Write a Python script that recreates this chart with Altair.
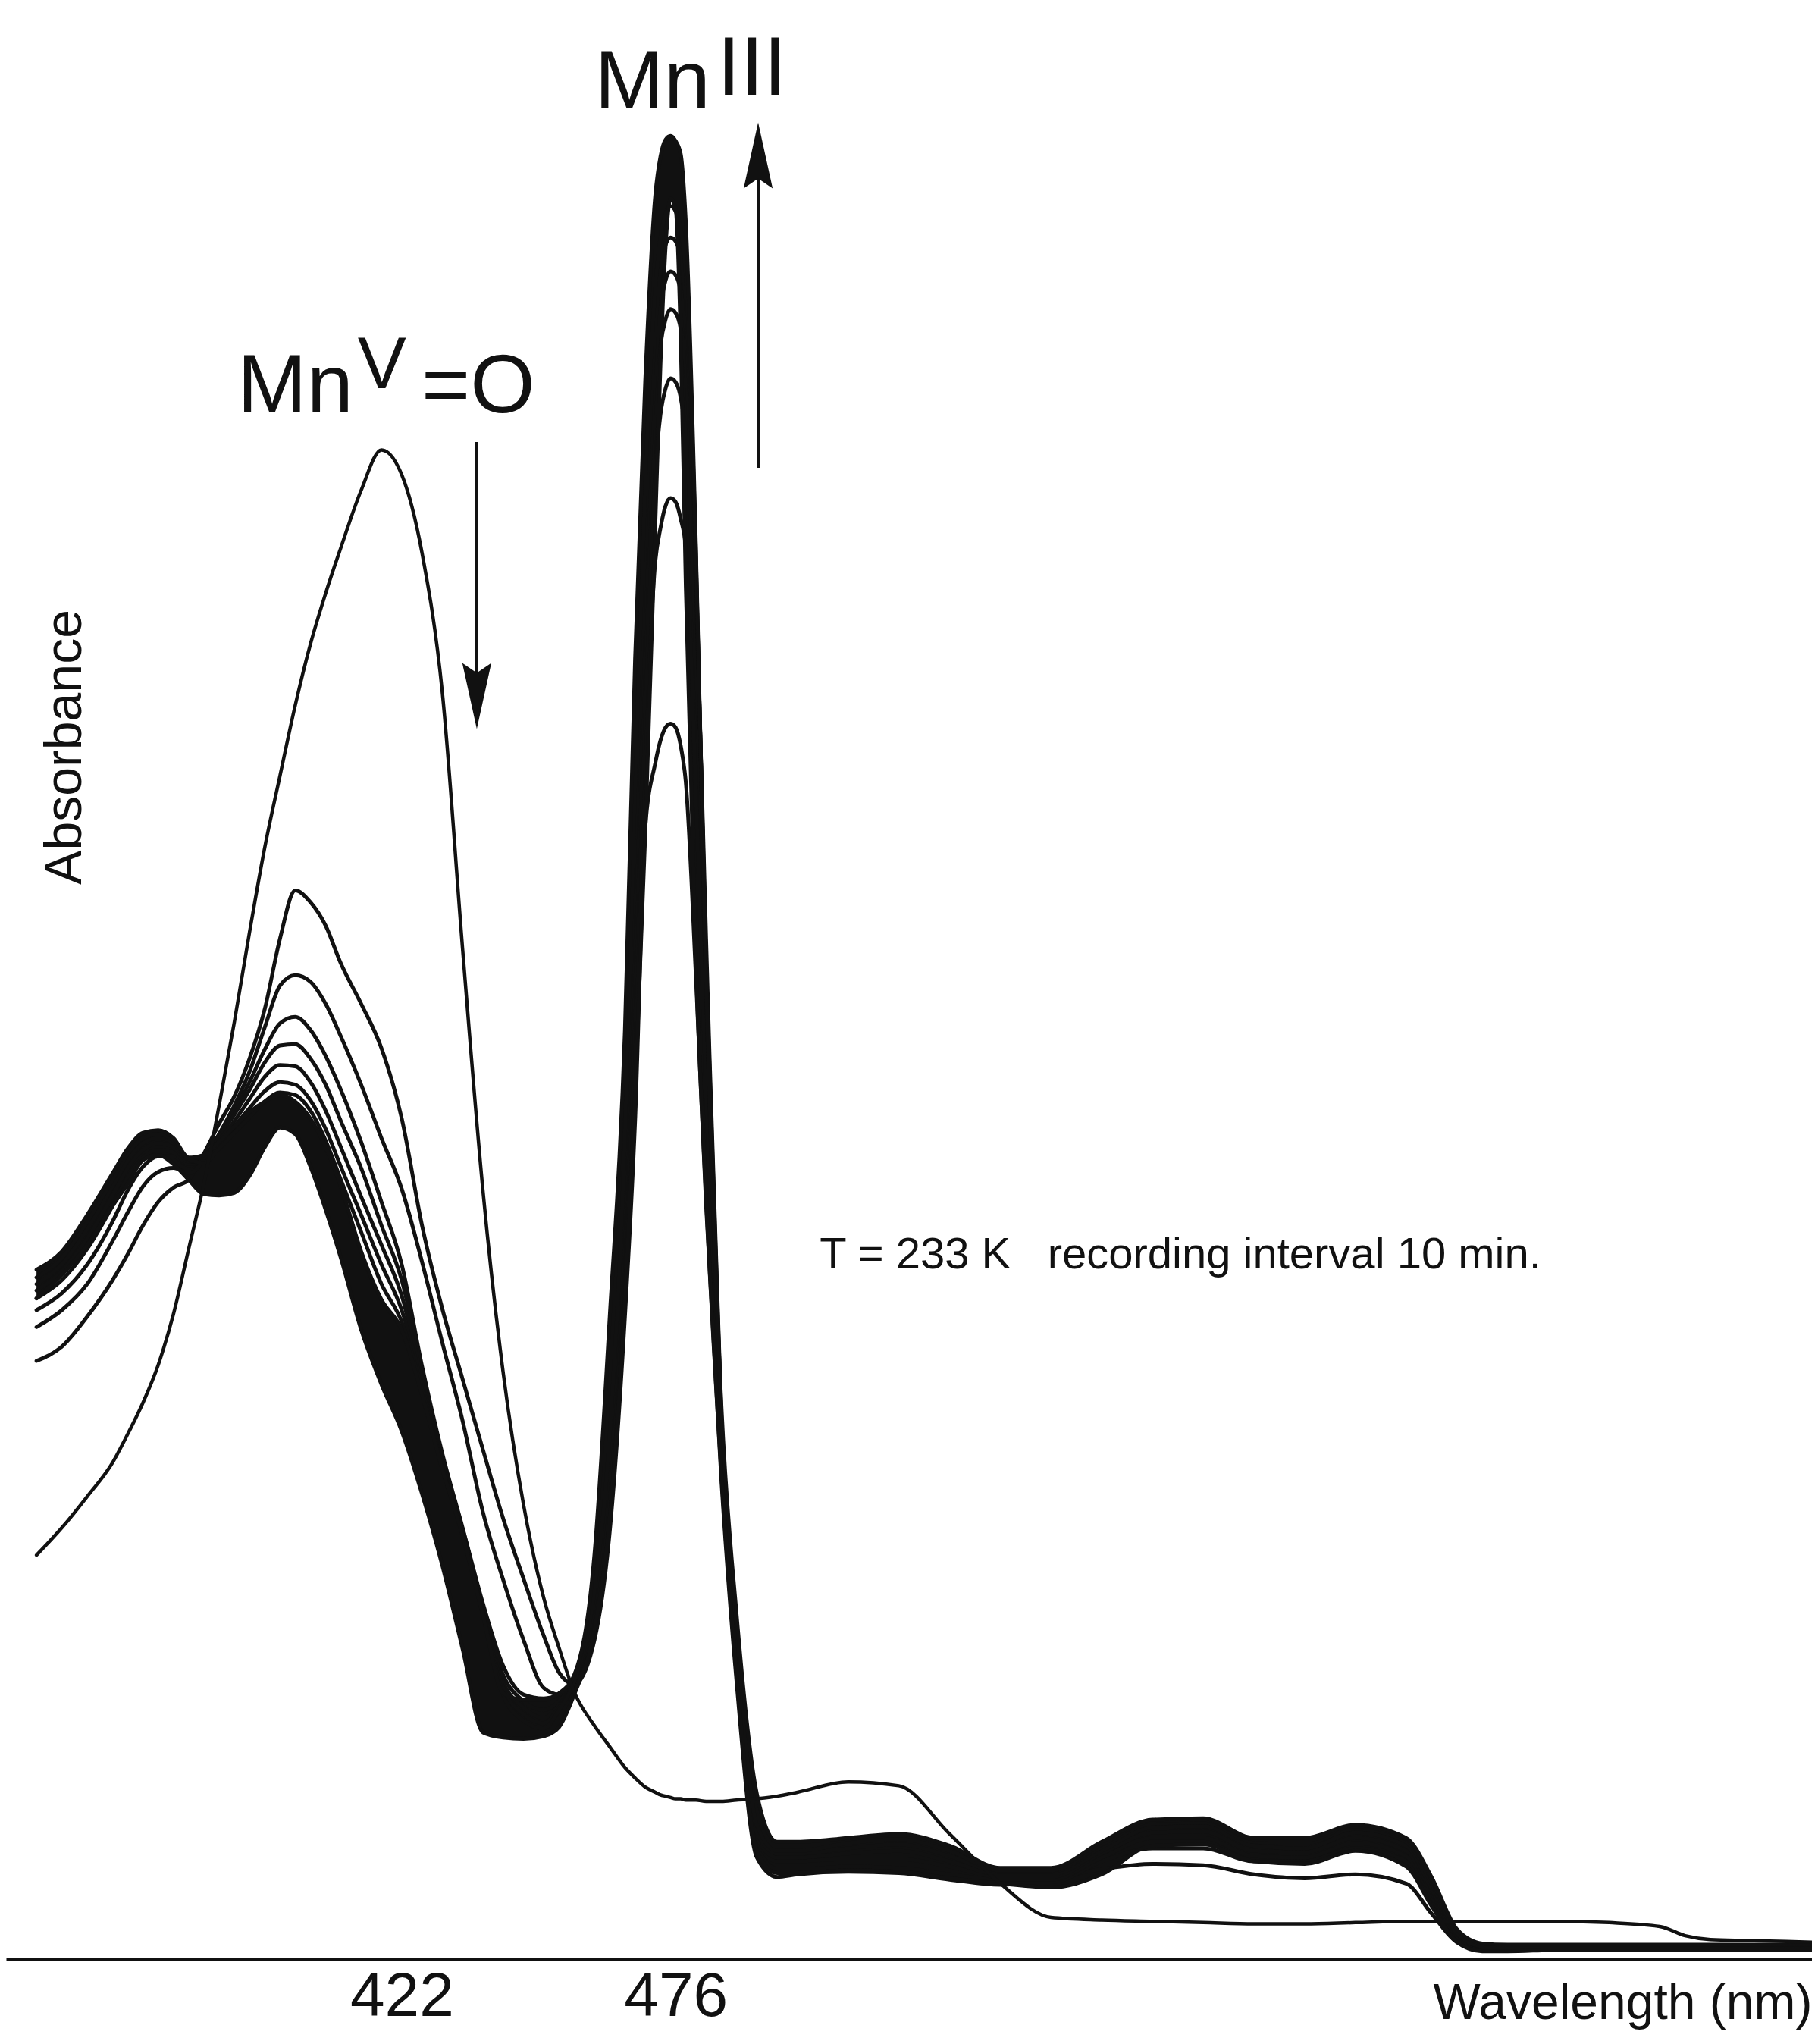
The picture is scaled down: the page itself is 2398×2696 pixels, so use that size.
import altair as alt
import pandas as pd

# wavelength grid (nm)
wl = [350, 355, 360, 365, 368, 371, 374, 377, 380, 383, 386, 389, 392, 395, 398, 401,
      404, 407, 410, 414, 418, 422, 426, 430, 434, 438, 442, 446, 450, 453, 456, 460,
      463, 466, 468, 470, 472, 473, 474, 475, 476, 477, 478, 480, 482, 485, 488, 492,
      496, 500, 510, 520, 530, 540, 550, 560, 570, 580, 590, 600, 610, 620, 625, 630,
      635, 640, 650, 660, 670, 675, 680, 690, 700]

# initial Mn(V)=O spectrum
c0 = [0.310, 0.331, 0.355, 0.381, 0.403, 0.427, 0.456, 0.495, 0.545, 0.595, 0.655, 0.719,
      0.788, 0.853, 0.908, 0.962, 1.009, 1.048, 1.083, 1.127, 1.158, 1.139, 1.079, 0.972,
      0.775, 0.590, 0.450, 0.349, 0.277, 0.239, 0.205, 0.179, 0.163, 0.147, 0.139, 0.132,
      0.128, 0.126, 0.125, 0.124, 0.123, 0.123, 0.122, 0.122, 0.121, 0.121, 0.122, 0.123,
      0.125, 0.128, 0.136, 0.133, 0.096, 0.058, 0.032, 0.030, 0.029, 0.028, 0.027, 0.027,
      0.028, 0.029, 0.029, 0.029, 0.029, 0.029, 0.029, 0.028, 0.025, 0.018, 0.015, 0.014,
      0.013]

c1 = [0.459, 0.470, 0.493, 0.521, 0.541, 0.563, 0.581, 0.592, 0.598, 0.618, 0.641, 0.662,
      0.691, 0.729, 0.783, 0.820, 0.811, 0.793, 0.764, 0.733, 0.699, 0.645, 0.563, 0.499,
      0.445, 0.391, 0.338, 0.292, 0.248, 0.220, 0.211, 0.245, 0.328, 0.493, 0.643, 0.868,
      0.918, 0.935, 0.945, 0.948, 0.945, 0.931, 0.903, 0.753, 0.578, 0.368, 0.213, 0.078,
      0.063, 0.065, 0.067, 0.066, 0.061, 0.057, 0.062, 0.069, 0.073, 0.072, 0.065, 0.062,
      0.065, 0.058, 0.035, 0.013, 0.007, 0.007, 0.007, 0.007, 0.007, 0.007, 0.007, 0.007,
      0.007]

c2 = [0.485, 0.498, 0.518, 0.551, 0.573, 0.593, 0.604, 0.607, 0.603, 0.613, 0.633, 0.655,
      0.681, 0.715, 0.747, 0.755, 0.750, 0.733, 0.708, 0.671, 0.630, 0.591, 0.535, 0.473,
      0.413, 0.343, 0.291, 0.245, 0.208, 0.203, 0.210, 0.253, 0.343, 0.523, 0.723, 0.928,
      1.073, 1.098, 1.115, 1.121, 1.118, 1.105, 1.083, 0.893, 0.663, 0.393, 0.228, 0.085,
      0.069, 0.067, 0.070, 0.069, 0.063, 0.059, 0.059, 0.075, 0.085, 0.085, 0.075, 0.075,
      0.085, 0.075, 0.045, 0.015, 0.008, 0.008, 0.008, 0.008, 0.008, 0.008, 0.008, 0.008,
      0.008]

c3 = [0.498, 0.511, 0.533, 0.566, 0.590, 0.608, 0.616, 0.616, 0.609, 0.615, 0.633, 0.651,
      0.673, 0.698, 0.718, 0.723, 0.713, 0.693, 0.667, 0.627, 0.581, 0.533, 0.455, 0.388,
      0.331, 0.273, 0.225, 0.203, 0.200, 0.203, 0.211, 0.258, 0.353, 0.553, 0.773, 0.983,
      1.143, 1.185, 1.205, 1.213, 1.210, 1.198, 1.168, 1.003, 0.743, 0.408, 0.238, 0.088,
      0.069, 0.069, 0.071, 0.070, 0.065, 0.061, 0.061, 0.078, 0.093, 0.093, 0.079, 0.078,
      0.089, 0.079, 0.048, 0.016, 0.009, 0.009, 0.009, 0.009, 0.009, 0.009, 0.009, 0.009,
      0.009]

c4 = [0.507, 0.521, 0.545, 0.578, 0.600, 0.615, 0.621, 0.619, 0.610, 0.613, 0.631, 0.648,
      0.667, 0.688, 0.701, 0.702, 0.691, 0.671, 0.643, 0.607, 0.563, 0.521, 0.451, 0.385,
      0.330, 0.271, 0.218, 0.198, 0.191, 0.198, 0.213, 0.263, 0.363, 0.578, 0.803, 1.033,
      1.193, 1.238, 1.258, 1.266, 1.263, 1.251, 1.221, 1.053, 0.783, 0.418, 0.245, 0.091,
      0.075, 0.075, 0.077, 0.077, 0.071, 0.063, 0.063, 0.081, 0.097, 0.098, 0.083, 0.082,
      0.093, 0.083, 0.051, 0.017, 0.009, 0.009, 0.009, 0.009, 0.009, 0.009, 0.009, 0.009,
      0.009]

c5 = [0.513, 0.528, 0.553, 0.586, 0.607, 0.621, 0.626, 0.623, 0.612, 0.612, 0.628, 0.643,
      0.660, 0.677, 0.686, 0.685, 0.673, 0.651, 0.623, 0.585, 0.548, 0.509, 0.446, 0.382,
      0.328, 0.269, 0.213, 0.193, 0.185, 0.195, 0.213, 0.268, 0.373, 0.593, 0.833, 1.063,
      1.223, 1.267, 1.288, 1.295, 1.292, 1.280, 1.251, 1.068, 0.763, 0.415, 0.248, 0.093,
      0.078, 0.078, 0.081, 0.083, 0.075, 0.065, 0.065, 0.083, 0.101, 0.102, 0.087, 0.085,
      0.097, 0.087, 0.054, 0.018, 0.010, 0.010, 0.010, 0.010, 0.010, 0.010, 0.010, 0.010,
      0.010]

c6 = [0.518, 0.533, 0.560, 0.593, 0.613, 0.626, 0.630, 0.626, 0.613, 0.611, 0.625, 0.639,
      0.653, 0.666, 0.673, 0.671, 0.659, 0.637, 0.608, 0.571, 0.533, 0.498, 0.441, 0.379,
      0.327, 0.267, 0.208, 0.188, 0.181, 0.193, 0.213, 0.275, 0.388, 0.613, 0.863, 1.093,
      1.253, 1.295, 1.315, 1.321, 1.318, 1.306, 1.273, 1.073, 0.753, 0.413, 0.251, 0.097,
      0.081, 0.081, 0.085, 0.088, 0.079, 0.067, 0.067, 0.086, 0.104, 0.105, 0.090, 0.089,
      0.100, 0.090, 0.058, 0.019, 0.010, 0.010, 0.010, 0.010, 0.010, 0.010, 0.010, 0.010,
      0.010]

c7 = [0.523, 0.538, 0.566, 0.598, 0.618, 0.630, 0.633, 0.628, 0.614, 0.611, 0.622, 0.634,
      0.646, 0.658, 0.665, 0.663, 0.651, 0.628, 0.598, 0.558, 0.518, 0.489, 0.437, 0.377,
      0.326, 0.265, 0.203, 0.183, 0.177, 0.191, 0.213, 0.283, 0.403, 0.633, 0.903, 1.133,
      1.283, 1.321, 1.339, 1.345, 1.341, 1.328, 1.293, 1.078, 0.748, 0.413, 0.253, 0.103,
      0.083, 0.083, 0.089, 0.092, 0.083, 0.068, 0.068, 0.088, 0.106, 0.107, 0.092, 0.091,
      0.102, 0.092, 0.061, 0.020, 0.010, 0.010, 0.010, 0.010, 0.010, 0.010, 0.010, 0.010,
      0.010]

# dense band of later spectra: upper and lower envelopes
band_hi = [0.529, 0.543, 0.571, 0.603, 0.622, 0.634, 0.636, 0.630, 0.615, 0.617, 0.627, 0.639,
           0.650, 0.658, 0.663, 0.658, 0.645, 0.623, 0.593, 0.543, 0.506, 0.483, 0.433, 0.376,
           0.325, 0.264, 0.204, 0.199, 0.199, 0.204, 0.218, 0.311, 0.493, 0.713, 0.998, 1.211,
           1.354, 1.383, 1.396, 1.399, 1.395, 1.385, 1.333, 1.083, 0.753, 0.426, 0.265, 0.127,
           0.090, 0.090, 0.093, 0.096, 0.087, 0.070, 0.070, 0.090, 0.107, 0.108, 0.093, 0.093,
           0.103, 0.093, 0.063, 0.023, 0.012, 0.011, 0.011, 0.011, 0.011, 0.011, 0.011, 0.011,
           0.011]
band_lo = [0.507, 0.525, 0.548, 0.578, 0.595, 0.613, 0.617, 0.610, 0.598, 0.587, 0.586, 0.588,
           0.601, 0.623, 0.638, 0.633, 0.608, 0.575, 0.538, 0.483, 0.441, 0.405, 0.357, 0.302,
           0.238, 0.174, 0.170, 0.169, 0.171, 0.178, 0.203, 0.253, 0.338, 0.503, 0.663, 0.863,
           1.103, 1.223, 1.313, 1.351, 1.343, 1.243, 1.053, 0.763, 0.583, 0.373, 0.218, 0.083,
           0.066, 0.066, 0.068, 0.067, 0.062, 0.058, 0.055, 0.065, 0.087, 0.088, 0.075, 0.073,
           0.083, 0.071, 0.041, 0.013, 0.006, 0.006, 0.007, 0.007, 0.007, 0.007, 0.007, 0.007,
           0.007]

tick_values = [422, 476]

# annotations (data coordinates)
label_mn_v = {"wl": [389.6, 425.9], "a": [1.1868, 1.1868], "t": ["Mn", "=O"]}
label_sup_v = {"wl": [413.3], "a": [1.2054], "t": ["V"]}
label_mn_iii = {"wl": [460.0, 484.2], "a": [1.4201, 1.4305], "t": ["Mn", "III"]}
note = {"wl": [504.4], "a": [0.530], "t": ["T = 233 K\u00a0\u00a0\u00a0recording interval 10 min."]}
arrow_down = {"wl": [436.8], "a": [1.1641], "a2": [0.9692]}
arrow_up = {"wl": [492.26], "a": [1.1443], "a2": [1.3840]}

INK = "#111111"
FONT = "Liberation Sans"

curves = {"c1": c1, "c2": c2, "c3": c3, "c4": c4, "c5": c5, "c6": c6, "c7": c7,
          "band_hi": band_hi, "band_lo": band_lo}
rows = []
for name, vals in curves.items():
    for w, a in zip(wl, vals):
        rows.append({"curve": name, "wl": w, "a": a})
df_lines = pd.DataFrame(rows)
df_c0 = pd.DataFrame({"wl": wl, "a": c0})
df_band = pd.DataFrame({"wl": wl, "a": band_hi, "a2": band_lo})

X = alt.X("wl:Q",
          scale=alt.Scale(domain=[344, 700], nice=False, zero=False),
          axis=alt.Axis(values=tick_values, title="Wavelength (nm)", grid=False,
                        ticks=False, tickSize=0, domainColor=INK, domainWidth=4,
                        labelFont=FONT, labelFontSize=82, labelColor=INK,
                        labelPadding=74, labelBaseline="alphabetic", labelFlush=False,
                        titleFont=FONT, titleFontSize=66, titleFontWeight="normal",
                        titleColor=INK, titleX=2382, titleY=78, titleAlign="right",
                        titleAnchor="end", titleBaseline="alphabetic"))
Y = alt.Y("a:Q",
          scale=alt.Scale(domain=[0, 1.4986], nice=False, zero=False),
          axis=alt.Axis(domain=False, ticks=False, labels=False, grid=False,
                        title="Absorbance", titleFont=FONT, titleFontSize=68,
                        titleFontWeight="normal", titleColor=INK, titleAngle=270,
                        titleX=78, titleY=977, titleAlign="center",
                        titleBaseline="middle"))

band = alt.Chart(df_band).mark_area(color=INK, interpolate="monotone", opacity=1).encode(
    x=X, y=Y, y2=alt.Y2("a2:Q"))

lines = alt.Chart(df_lines).mark_line(
    color=INK, strokeWidth=5, interpolate="monotone", strokeCap="round", strokeJoin="round"
).encode(x=X, y=Y, detail="curve:N")

line0 = alt.Chart(df_c0).mark_line(
    color=INK, strokeWidth=4.5, interpolate="monotone", strokeCap="round"
).encode(x=X, y=Y)

big_v = alt.Chart(pd.DataFrame(label_mn_v)).mark_text(
    font=FONT, fontSize=110, align="left", baseline="alphabetic", color=INK
).encode(x=X, y=Y, text="t:N")

sup_v = alt.Chart(pd.DataFrame(label_sup_v)).mark_text(
    font=FONT, fontSize=96, align="left", baseline="alphabetic", color=INK
).encode(x=X, y=Y, text="t:N")

big_iii = alt.Chart(pd.DataFrame(label_mn_iii)).mark_text(
    font=FONT, fontSize=110, align="left", baseline="alphabetic", color=INK
).encode(x=X, y=Y, text="t:N")

note_txt = alt.Chart(pd.DataFrame(note)).mark_text(
    font=FONT, fontSize=58, align="left", baseline="alphabetic", color=INK
).encode(x=X, y=Y, text="t:N")

shaft_down = alt.Chart(pd.DataFrame(arrow_down)).mark_rule(color=INK, strokeWidth=4).encode(
    x=X, y=Y, y2=alt.Y2("a2:Q"))
shaft_up = alt.Chart(pd.DataFrame(arrow_up)).mark_rule(color=INK, strokeWidth=4).encode(
    x=X, y=Y, y2=alt.Y2("a2:Q"))

head_down = alt.Chart(pd.DataFrame({"wl": arrow_down["wl"], "a": arrow_down["a2"]})).mark_point(
    shape="M0,1L-0.44,-1L0,-0.7L0.44,-1Z", filled=True, size=7569, color=INK, opacity=1,
    strokeWidth=0
).encode(x=X, y=Y)
head_up = alt.Chart(pd.DataFrame({"wl": arrow_up["wl"], "a": arrow_up["a2"]})).mark_point(
    shape="M0,-1L-0.44,1L0,0.7L0.44,1Z", filled=True, size=7569, color=INK, opacity=1,
    strokeWidth=0
).encode(x=X, y=Y)

chart = alt.layer(
    band, lines, line0, shaft_down, shaft_up, head_down, head_up,
    big_v, sup_v, big_iii, note_txt
).properties(
    width=2382, height=2576,
    autosize=alt.AutoSizeParams(type="none"),
    padding={"left": 0, "top": 0, "right": 0, "bottom": 96},
    background="white",
).configure_view(strokeWidth=0)

chart.save("out.html", embed_options={"renderer": "svg", "actions": False})
